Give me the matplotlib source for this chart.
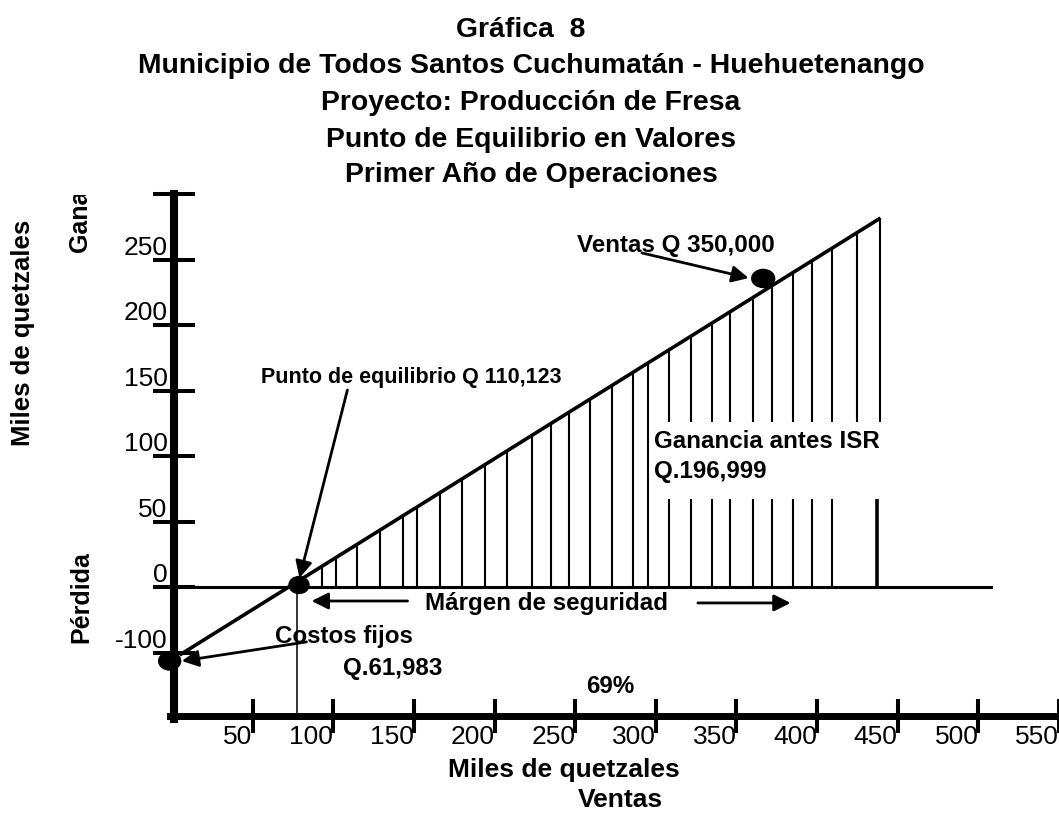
import numpy as np
import matplotlib
matplotlib.use("Agg")
import matplotlib.pyplot as plt
from matplotlib.patches import Ellipse
from matplotlib.transforms import Bbox, TransformedBbox

plt.rcParams['font.family'] = ['Liberation Sans', 'DejaVu Sans']

# --- values (miles de quetzales) ---
sales_x = [4.8, 439.3]          # linea de ventas
sales_y = [-52.0, 282.1]
costs_pt = (-1.4, -56.6)        # costos fijos
breakeven_pt = (78.8, 1.5)      # punto de equilibrio
sales_pt = (366.6, 235.9)       # ventas Q 350,000
breakeven_x = 77.4
zero_line_end = 508

hatch_full_x = [93, 102, 115, 129, 143, 152, 166, 180, 194, 208, 223, 235,
                246, 259, 273, 286, 295]
hatch_upper_x = [308, 322, 335, 346, 360, 372, 385, 397, 409, 425, 439]
hatch_lower_x = [308, 322, 335, 346, 360, 372, 385, 397, 409]
hatch_thick_x = 437
gap_low, gap_high = 67, 126

xticks = [50, 100, 150, 200, 250, 300, 350, 400, 450, 500, 550]
ytick_pos = [-50.5, 0, 50, 100, 150, 200, 250, 300.5]
ytick_labels = ['-100', '0', '50', '100', '150', '200', '250', '']

title_lines = ['Gráfica  8',
               'Municipio de Todos Santos Cuchumatán - Huehuetenango',
               'Proyecto: Producción de Fresa',
               'Punto de Equilibrio en Valores',
               'Primer Año de Operaciones']

W, H = 1059, 813
fig = plt.figure(figsize=(W / 100, H / 100), dpi=100)
ax = fig.add_axes([0, 0, 1, 1])
ax.set_xlim(-106.6, 548.9)
ax.set_ylim(-172.8, 448.8)
ax.patch.set_visible(False)

# axes drawn as thick spines crossing at the origin
for s in ['top', 'right']:
    ax.spines[s].set_visible(False)
ax.spines['left'].set_position(('data', 1.4))
ax.spines['bottom'].set_position(('data', -98.6))
ax.spines['left'].set_linewidth(5.8)
ax.spines['bottom'].set_linewidth(5.0)
ax.spines['left'].set_bounds(-101.2, 300.5)
ax.spines['bottom'].set_bounds(-1.5, 560)

ax.set_xticks(xticks)
ax.set_xticklabels([str(v) for v in xticks])
ax.set_yticks(ytick_pos)
ax.set_yticklabels(ytick_labels)
ax.tick_params(axis='y', direction='inout', length=30.2, width=2.9,
               labelsize=19, pad=-10.4)
ax.tick_params(axis='x', direction='inout', length=24.5, width=2.9,
               labelsize=19, pad=-6.0)
for lbl in ax.get_xticklabels():
    lbl.set_ha('right')
for lbl in ax.get_yticklabels():
    lbl.set_va('bottom')

# zero line and breakeven drop line
ax.plot([1.4, zero_line_end], [0, 0], color='k', lw=2.2)
ax.plot([breakeven_x, breakeven_x], [0, -98.6], color='k', lw=1.1)

# sales line
ax.plot(sales_x, sales_y, color='k', lw=2.6, solid_capstyle='butt')

# hatching of the profit area
tops_full = np.interp(hatch_full_x, sales_x, sales_y)
ax.vlines(hatch_full_x, 0, tops_full, color='k', lw=1.5)
tops_upper = np.interp(hatch_upper_x, sales_x, sales_y)
ax.vlines(hatch_upper_x, gap_high, tops_upper, color='k', lw=1.5)
ax.vlines(hatch_lower_x, 0, gap_low, color='k', lw=1.5)
ax.vlines([hatch_thick_x], 0, gap_low, color='k', lw=2.6)

# dots
for (cx, cy), w, h in [(costs_pt, 13.6, 13.8), (breakeven_pt, 12.4, 13.0),
                       (sales_pt, 14.2, 13.8)]:
    ax.add_patch(Ellipse((cx, cy), w, h, color='k', zorder=5))

arrow = dict(arrowstyle='-|>', color='k', lw=2, mutation_scale=25,
             shrinkA=0, shrinkB=0)
bold = dict(fontweight='bold', va='baseline', ha='left')

ax.text(55.5, 156.0, 'Punto de equilibrio Q 110,123', fontsize=15.5, **bold)
ax.annotate('', xy=(79.1, 6.9), xytext=(108.8, 150.6), arrowprops=arrow)

ax.text(251.2, 256.1, 'Ventas Q 350,000', fontsize=17.4, **bold)
ax.annotate('', xy=(357.6, 236.2), xytext=(291.4, 255.4), arrowprops=arrow)

ax.text(298.8, 106.3, 'Ganancia antes ISR', fontsize=17.4, **bold)
ax.text(298.8, 83.3, 'Q.196,999', fontsize=17.4, **bold)

ax.text(157.1, -17.6, 'Márgen de seguridad', fontsize=17.4, **bold)
ax.annotate('', xy=(86.6, -10.7), xytext=(146.1, -10.7), arrowprops=arrow)
ax.annotate('', xy=(383.6, -12.2), xytext=(326.1, -12.2), arrowprops=arrow)

ax.text(63.6, -42.8, 'Costos fijos', fontsize=17.4, **bold)
ax.text(106.3, -67.3, 'Q.61,983', fontsize=17.4, **bold)
ax.annotate('', xy=(6.1, -56.6), xytext=(83.4, -42.0), arrowprops=arrow)

ax.text(256.7, -81.0, '69%', fontsize=17.4, **bold)

ax.text(243.1, -145.3, 'Miles de quetzales', fontsize=19, fontweight='bold',
        ha='center', va='baseline')
ax.text(277.8, -168.0, 'Ventas', fontsize=19, fontweight='bold',
        ha='center', va='baseline')

# rotated labels on the left
fig.text(23 / W, 1 - 333 / H, 'Miles de quetzales', rotation=90, fontsize=18.5,
         fontweight='bold', ha='center', va='center')
fig.text(81 / W, 1 - 597 / H, 'Pérdida', rotation=90, fontsize=18,
         fontweight='bold', ha='center', va='center')
g = fig.text(80 / W, 1 - 252 / H, 'Ganancia', rotation=90, fontsize=18,
             fontweight='bold', ha='center', va='bottom')
g.set_clip_box(TransformedBbox(Bbox([[0, 0], [1, 1 - 195 / H]]), fig.transFigure))
g.set_clip_on(True)

# title
for i, (line, base) in enumerate(zip(title_lines, [37, 73, 110, 147, 182])):
    cx = 521 if i == 0 else 531
    fig.text(cx / W, 1 - base / H, line, fontsize=20.4, fontweight='bold',
             ha='center', va='baseline')

fig.savefig('out.png', dpi=100)
